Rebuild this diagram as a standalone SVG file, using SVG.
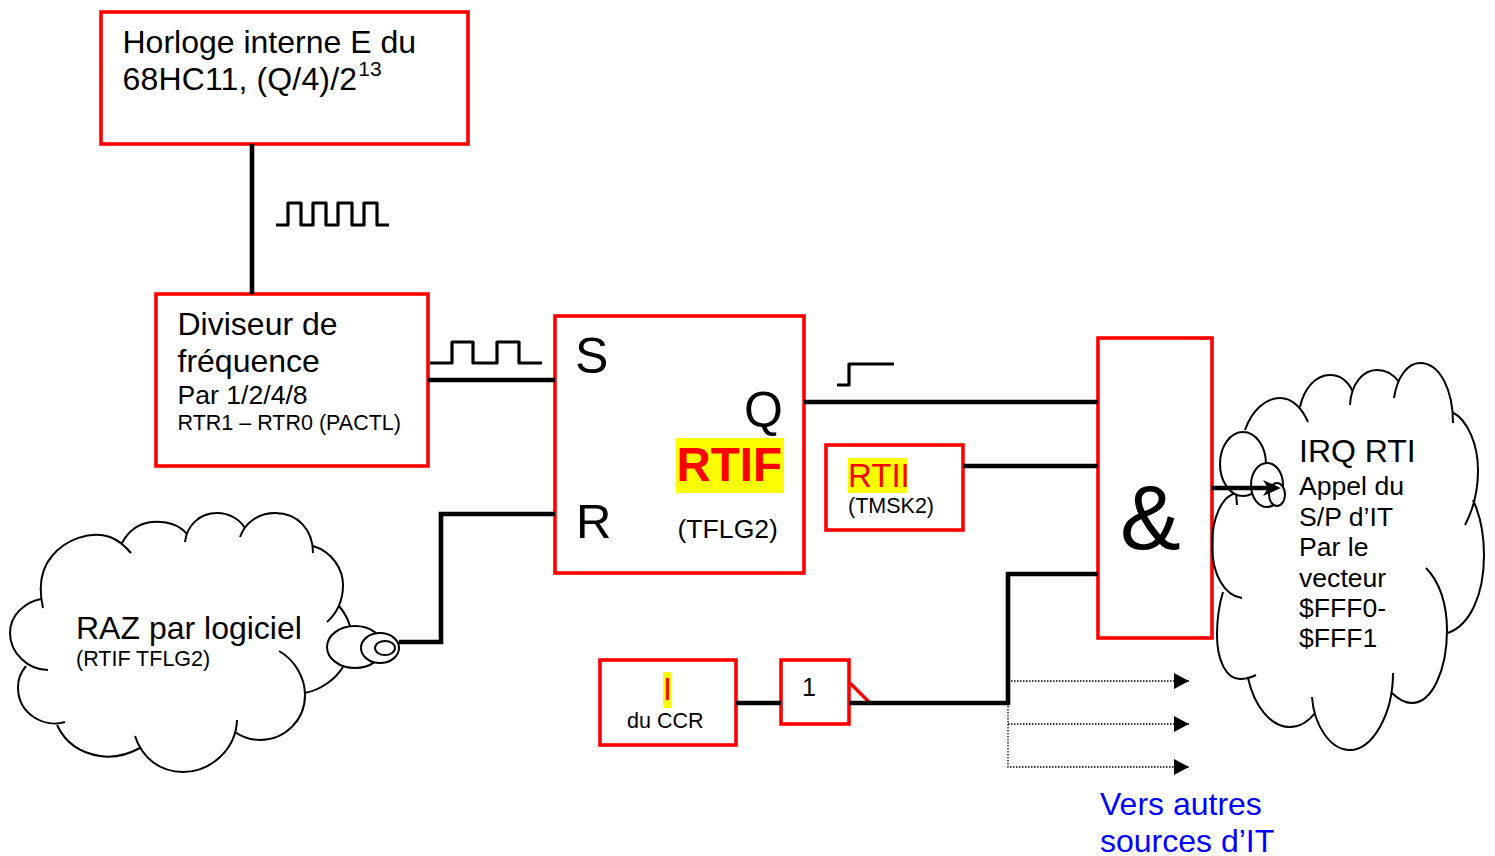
<svg xmlns="http://www.w3.org/2000/svg" width="1495" height="856" viewBox="0 0 1495 856">
<style>
text{font-family:"Liberation Sans",Arial,sans-serif;fill:#000}
.box{fill:#fff;stroke:#f00;stroke-width:3.6}
.wire{fill:none;stroke:#000;stroke-width:4.6}
.sig{fill:none;stroke:#000;stroke-width:3.2;stroke-linejoin:round}
.cloud{fill:none;stroke:#000;stroke-width:2}
.lobe{fill:#fff;stroke:#000;stroke-width:2}
.dot{fill:none;stroke:#000;stroke-width:1.3;stroke-dasharray:1.5 1.5}
.hl{fill:#ff0}
.t32{font-size:32px}.t27{font-size:26.6px}.t22{font-size:21.5px}
</style>
<defs>
<marker id="tri" markerUnits="userSpaceOnUse" markerWidth="16" markerHeight="16" refX="15" refY="8" orient="auto"><path d="M0 0L15 8L0 16Z" fill="#000"/></marker>
</defs>
<g id="horloge"><rect class="box" x="101" y="12" width="367" height="132"/>
<text class="t32" x="122.5" y="53">Horloge interne E du</text>
<text class="t32" x="122.5" y="90" letter-spacing="0.15">68HC11, (Q/4)/2<tspan font-size="21" dx="1" dy="-14">13</tspan></text></g>
<g id="diviseur"><rect class="box" x="156" y="294" width="272" height="172"/>
<text class="t32" x="177.5" y="335">Diviseur de</text>
<text class="t32" x="177.5" y="372">fréquence</text>
<text class="t27" x="177.5" y="404">Par 1/2/4/8</text>
<text class="t22" x="177.5" y="430">RTR1 – RTR0 (PACTL)</text></g>
<g id="rtif"><rect class="box" x="555" y="316" width="249" height="257"/>
<text x="575" y="372.5" font-size="50">S</text>
<text x="744" y="427" font-size="50">Q</text>
<text x="576" y="538" font-size="49">R</text>
<rect class="hl" x="676" y="438" width="108" height="55"/>
<text x="676.5" y="481" font-size="47.5" font-weight="bold" style="fill:#f00">RTIF</text>
<text class="t27" x="677.5" y="538">(TFLG2)</text></g>
<g id="rtii"><rect class="box" x="826" y="445" width="137" height="85"/>
<rect class="hl" x="848" y="458" width="59" height="35"/>
<text x="848" y="487" font-size="33" style="fill:#f00">RTII</text>
<text class="t22" x="848" y="513">(TMSK2)</text></g>
<g id="et"><rect class="box" x="1098" y="338" width="114" height="300"/>
<text x="1120" y="549" font-size="91">&amp;</text></g>
<g id="ccr"><rect class="box" x="600" y="660" width="136" height="85"/>
<rect class="hl" x="663" y="672" width="8" height="36"/>
<text x="663" y="700" font-size="32" style="fill:#f00">I</text>
<text class="t22" x="627" y="728">du CCR</text></g>
<g id="inverseur"><rect class="box" x="781" y="660" width="68" height="64"/>
<text x="802" y="696" font-size="25">1</text></g>
<g id="raz">
<path class="cloud" d="M43 608C39 590 40 570 52 556C65 540 90 530 110 537C118 540 125 546 131 553M122 543C130 528 142 523 152 522C168 521 180 526 187 534M185 542C187 525 200 513 217 513C230 513 240 520 245 528M240 537C245 523 258 513 275 513C298 513 313 530 313 553M313 546C333 552 343 570 343 585C343 600 337 613 327 622M339 606C344 612 348 619 350 626M343 667C335 680 320 690 305 693M279 651C295 660 305 678 305 695C305 720 285 740 260 740C250 740 242 737 235 732M237 720C236 750 210 772 183 772C160 772 142 758 135 736M140 748C125 756 112 758 100 756C80 753 65 742 57 725M65 722C45 728 18 715 18 687C18 680 21 672 26 666M48 670C28 670 10 653 10 633C10 615 25 602 41 599"/>
<ellipse class="lobe" cx="355" cy="647" rx="28" ry="21"/>
<ellipse class="lobe" cx="380" cy="648" rx="19" ry="15"/>
<ellipse class="lobe" cx="385" cy="648" rx="10" ry="7"/>
<text class="t32" x="76" y="639">RAZ par logiciel</text>
<text class="t22" x="76" y="666">(RTIF TFLG2)</text></g>
<g id="irq">
<path class="cloud" d="M1245 430C1252 410 1266 398 1280 398C1292 398 1302 408 1308 422M1300 407C1304 388 1316 375 1330 375C1340 375 1348 381 1353 392M1350 405C1351 385 1362 370 1377 370C1387 370 1394 375 1399 382M1394 398C1397 378 1407 363 1420 363C1440 363 1453 390 1453 423M1452 412C1468 420 1478 445 1478 470C1478 490 1473 510 1465 525M1473 500C1480 515 1484 535 1484 555C1484 595 1470 625 1448 633M1426 568C1440 582 1447 605 1447 630C1447 670 1432 703 1412 703C1405 703 1398 699 1392 693M1393 673C1393 715 1372 750 1350 750C1330 750 1314 725 1312 697M1315 713C1308 722 1300 727 1290 727C1270 727 1254 705 1248 678M1256 675C1250 678 1245 679 1240 679C1226 679 1217 660 1217 635C1217 620 1219 605 1223 592M1242 598C1225 596 1212 575 1212 545C1212 518 1222 495 1237 493M1237 505L1236 493"/>
<ellipse class="lobe" cx="1243" cy="464" rx="23" ry="32"/>
<ellipse class="lobe" cx="1267" cy="485" rx="16" ry="22"/>
<ellipse class="lobe" cx="1277" cy="494.5" rx="8" ry="11.5"/>
<text class="t32" x="1299" y="462">IRQ RTI</text>
<text class="t27" x="1299" y="494.5">Appel du</text>
<text class="t27" x="1299" y="525.5">S/P d’IT</text>
<text class="t27" x="1299" y="556">Par le</text>
<text class="t27" x="1299" y="586.5">vecteur</text>
<text class="t27" x="1299" y="617">$FFF0-</text>
<text class="t27" x="1299" y="647">$FFF1</text></g>
<g id="vers"><text class="t32" x="1100" y="815" style="fill:#00f">Vers autres</text>
<text class="t32" x="1100" y="852" style="fill:#00f">sources d’IT</text></g>
<g id="connectors">
<path d="M850 683L871 704" fill="none" stroke="#f00" stroke-width="3.4"/>
<path class="wire" d="M252 144V294"/>
<path class="wire" d="M428 380H555"/>
<path class="wire" d="M399 642H441V514H555"/>
<path class="wire" d="M804 402H1098"/>
<path class="wire" d="M963 466H1098"/>
<path class="wire" d="M736 703H781"/>
<path class="wire" d="M849 703H1008V574H1098"/>
<path class="wire" d="M1211 488H1270"/>
<path d="M1263 480L1281 488L1263 496L1268 488Z" fill="#000"/>
<path class="dot" d="M1008 681H1189" marker-end="url(#tri)"/>
<path class="dot" d="M1008 703V767H1189" marker-end="url(#tri)"/>
<path class="dot" d="M1008 724H1189" marker-end="url(#tri)"/>
<path class="sig" d="M276 225H288V203H301V225H313V203H326V225H338V203H352V225H364V203H377V225H389"/>
<path class="sig" d="M430 363H452V342H473V363H497V342H519V363H542"/>
<path class="sig" d="M837 385H849V364H894"/>
</g>
</svg>
